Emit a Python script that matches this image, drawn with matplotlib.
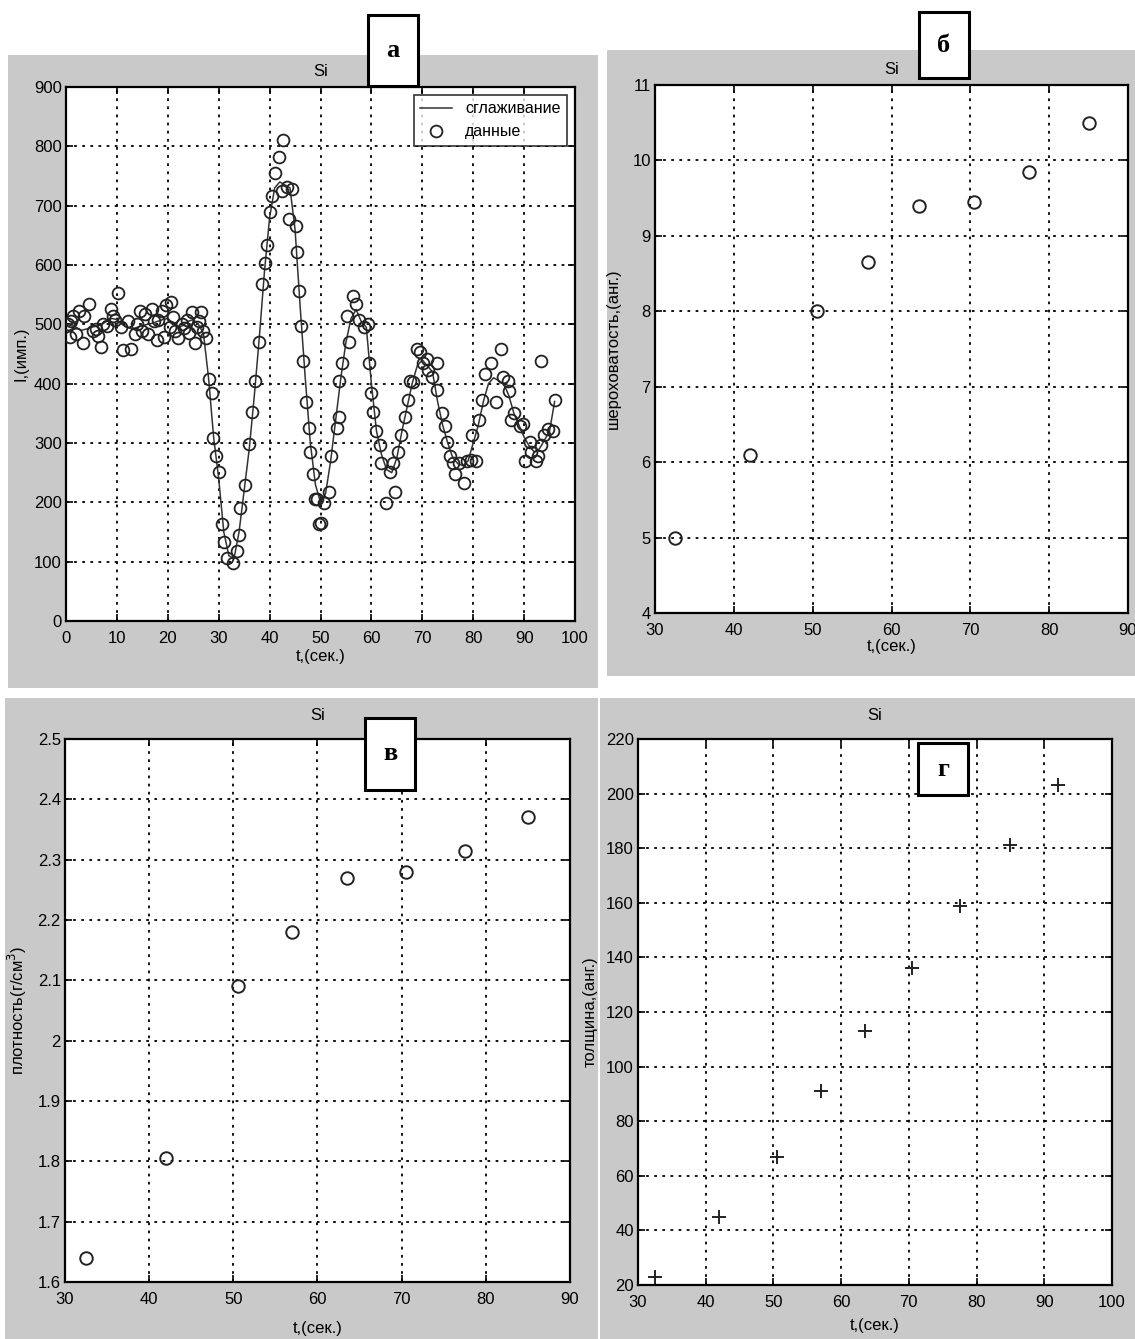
import numpy as np
import matplotlib
matplotlib.use("Agg")
import matplotlib.pyplot as plt
from matplotlib.patches import Rectangle
from matplotlib.ticker import FormatStrFormatter

plt.rcParams['font.family'] = ['Liberation Sans Narrow', 'Liberation Sans', 'DejaVu Sans']

W, H = 1135, 1339

# panel a: raw data (circles)
t_data = [1.3, 2.6, 4.6, 3.6, 2.0, 3.3, 5.3, 6.9, 7.2, 8.9, 10.2, 9.2, 10.9, 11.2, 12.8,
          12.2, 13.5, 14.5, 15.5, 16.1, 16.8, 17.8, 18.1, 18.8, 19.7, 20.7, 20.4, 21.4,
          22.0, 22.7, 23.7, 24.7, 25.3, 25.7, 26.6, 27.6, 27.0, 0.3, 0.8, 1.0, 5.8, 6.3,
          8.0, 9.6, 14.0, 15.0, 17.2, 19.2, 21.0, 23.2, 24.2, 26.2,
          28.0, 28.6, 28.8, 29.5, 30.1, 30.6, 31.0, 31.6, 32.9, 33.6, 33.9, 34.2, 35.2,
          35.9, 36.5, 37.2, 38.0, 38.5, 39.1, 39.5, 40.0, 40.5, 41.1, 41.8, 42.6, 42.4,
          43.4, 44.4, 43.8, 45.1, 45.4, 45.7, 46.1, 46.6, 47.2, 47.7, 48.0, 48.6, 49.0,
          49.7, 49.3, 50.0, 50.7, 51.7, 52.0, 53.3, 53.6, 53.6, 54.3, 55.6, 55.3, 56.3,
          57.0, 57.6, 58.6, 59.3, 59.6, 59.9, 60.3, 60.9, 61.6, 61.9, 62.9, 64.6, 63.6,
          64.2, 65.2, 65.9, 66.6, 67.2, 67.5, 68.2, 68.9, 69.5, 70.2, 70.9, 71.2, 71.9,
          72.8, 72.8, 73.8, 74.5, 74.8, 75.5, 76.1, 76.5, 78.1, 77.2, 78.8, 79.5, 80.5,
          79.8, 81.1, 81.8, 82.4, 83.4, 84.4, 85.4, 85.8, 86.8, 87.1, 87.4, 88.1, 89.1,
          89.7, 90.1, 91.1, 91.4, 92.4, 92.7, 93.4, 93.4, 94.0, 94.7, 96.0, 95.7]
i_data = [514, 523, 535, 514, 483, 468, 489, 462, 501, 526, 553, 514, 495, 456, 459,
          505, 483, 523, 517, 483, 526, 474, 507, 523, 532, 538, 495, 489,
          477, 501, 507, 520, 468, 495, 520, 477, 489, 500, 478, 505, 492, 480,
          498, 508, 500, 488, 505, 478, 512, 493, 486, 505,
          408, 384, 308, 278, 251, 163, 133, 106, 97, 118, 145, 190, 230,
          299, 353, 405, 471, 568, 604, 634, 689, 716, 755, 782, 810, 725,
          731, 728, 677, 665, 622, 556, 498, 438, 369, 326, 284, 248, 205,
          163, 205, 166, 199, 218, 278, 326, 344, 405, 435, 471, 514, 547,
          535, 508, 495, 501, 435, 384, 353, 320, 296, 266, 199, 218, 251,
          266, 284, 314, 344, 372, 405, 402, 459, 453, 435, 441, 423, 411,
          435, 390, 350, 329, 302, 278, 266, 248, 233, 266, 269, 272, 269,
          314, 338, 372, 417, 435, 369, 459, 411, 405, 387, 338, 350, 329,
          332, 269, 302, 284, 269, 278, 438, 296, 314, 323, 372, 320]

# panel a: smoothed curve
t_smooth = list(range(0, 97))
i_smooth = [500, 498, 495, 490, 492, 495, 497, 500, 505, 510, 508, 500, 495, 492, 495,
            498, 500, 502, 505, 508, 510, 502, 495, 498, 505, 508, 500, 485, 410, 310,
            240, 150, 110, 105, 150, 220, 290, 380, 480, 590, 680, 730, 740, 735, 730,
            660, 530, 410, 300, 230, 200, 215, 270, 340, 410, 470, 510, 525, 505, 495,
            400, 320, 280, 255, 250, 275, 320, 360, 400, 430, 440, 430, 420, 370, 330,
            300, 275, 265, 262, 270, 300, 330, 370, 400, 410, 405, 400, 380, 350, 330,
            310, 295, 285, 290, 305, 320, 370]

# panels б, в, г
t_layers = [32.5, 42, 50.5, 57, 63.5, 70.5, 77.5, 85]
roughness = [5.0, 6.1, 8.0, 8.65, 9.4, 9.45, 9.85, 10.5]
density = [1.64, 1.805, 2.09, 2.18, 2.27, 2.28, 2.315, 2.37]
t_thick = [32.5, 42, 50.5, 57, 63.5, 70.5, 77.5, 85, 92]
thickness = [23, 45, 67, 91, 113, 136, 159, 181, 203]

fig = plt.figure(figsize=(W / 100, H / 100), dpi=100)
fig.patch.set_facecolor('white')


def box(x0, y0, x1, y1):
    # pixel box (top-left origin) -> figure fraction [l, b, w, h]
    return [x0 / W, 1 - y1 / H, (x1 - x0) / W, (y1 - y0) / H]


def gray_panel(x0, y0, x1, y1):
    l, b, w, h = box(x0, y0, x1, y1)
    fig.patches.append(Rectangle((l, b), w, h, transform=fig.transFigure,
                                 facecolor='#c9c9c9', edgecolor='none', zorder=-10))


def letter_box(x0, y0, x1, y1, s):
    l, b, w, h = box(x0, y0, x1, y1)
    fig.patches.append(Rectangle((l, b), w, h, transform=fig.transFigure,
                                 facecolor='white', edgecolor='black', lw=2.2, zorder=5))
    fig.text(l + w / 2, b + h / 2, s, ha='center', va='center', fontsize=19,
             fontweight='bold', family=['Liberation Serif', 'DejaVu Serif'], zorder=6)


def style(ax):
    ax.set_facecolor('white')
    ax.grid(True, color='black', linestyle=(0, (1.5, 3)), linewidth=1.3)
    ax.tick_params(direction='in', length=5, width=1.2, labelsize=12, colors='black',
                   top=True, right=True, pad=3)
    ax.tick_params(axis='x', pad=7)
    for sp in ax.spines.values():
        sp.set_linewidth(1.6)
    ax.yaxis.set_major_formatter(FormatStrFormatter('%g'))


gray_panel(8, 55, 598, 688)
gray_panel(607, 50, 1135, 676)
gray_panel(5, 698, 598, 1339)
gray_panel(600, 698, 1135, 1339)

# а
ax1 = fig.add_axes(box(66, 87, 575, 621))
ax1.plot(t_smooth, i_smooth, color='#333333', lw=1.1, label='сглаживание', zorder=3)
ax1.plot(t_data, i_data, 'o', mfc='none', mec='#222222', ms=8.5, mew=1.3, label='данные', zorder=4)
ax1.set_xlim(0, 100)
ax1.set_ylim(0, 900)
ax1.set_xticks(range(0, 101, 10))
ax1.set_yticks(range(0, 901, 100))
style(ax1)
leg = ax1.legend(loc='upper right', fontsize=11.5, frameon=True, fancybox=False,
                 edgecolor='black', handlelength=2.0, borderaxespad=0.5)
leg.get_frame().set_linewidth(1.2)
ax1.set_xlabel('t,(сек.)', fontsize=12, labelpad=2)
ax1.set_ylabel('I,(имп.)', fontsize=12, labelpad=4)
ax1.set_title('Si', fontsize=12, pad=8)

# б
ax2 = fig.add_axes(box(655, 85, 1128, 613))
ax2.plot(t_layers, roughness, 'o', mfc='none', mec='#222222', ms=9, mew=1.4)
ax2.set_xlim(30, 90)
ax2.set_ylim(4, 11)
ax2.set_xticks(range(30, 91, 10))
ax2.set_yticks(range(4, 12))
style(ax2)
ax2.set_xlabel('t,(сек.)', fontsize=12, labelpad=1)
ax2.set_ylabel('шероховатость,(анг.)', fontsize=12, labelpad=8)
ax2.set_title('Si', fontsize=12, pad=8)

# в
ax3 = fig.add_axes(box(65, 739, 570, 1282))
ax3.plot(t_layers, density, 'o', mfc='none', mec='#222222', ms=9, mew=1.4)
ax3.set_xlim(30, 90)
ax3.set_ylim(1.6, 2.5)
ax3.set_xticks(range(30, 91, 10))
ax3.set_yticks(np.round(np.arange(1.6, 2.51, 0.1), 1))
style(ax3)
ax3.set_xlabel('t,(сек.)', fontsize=12, labelpad=10)
ax3.set_ylabel('плотность(г/см$^3$)', fontsize=12, labelpad=6)
ax3.set_title('Si', fontsize=12, pad=14)

# г
ax4 = fig.add_axes(box(638, 739, 1112, 1285))
ax4.plot(t_thick, thickness, '+', color='#222222', ms=10, mew=1.4)
ax4.set_xlim(30, 100)
ax4.set_ylim(20, 220)
ax4.set_xticks(range(30, 101, 10))
ax4.set_yticks(range(20, 221, 20))
style(ax4)
ax4.set_xlabel('t,(сек.)', fontsize=12, labelpad=6)
ax4.set_ylabel('толщина,(анг.)', fontsize=12, labelpad=6)
ax4.set_title('Si', fontsize=12, pad=14)

letter_box(368, 15, 418, 86, 'а')
letter_box(919, 12, 969, 78, 'б')
letter_box(365, 718, 415, 790, 'в')
letter_box(918, 743, 968, 795, 'г')

fig.savefig('out.png', dpi=100)
